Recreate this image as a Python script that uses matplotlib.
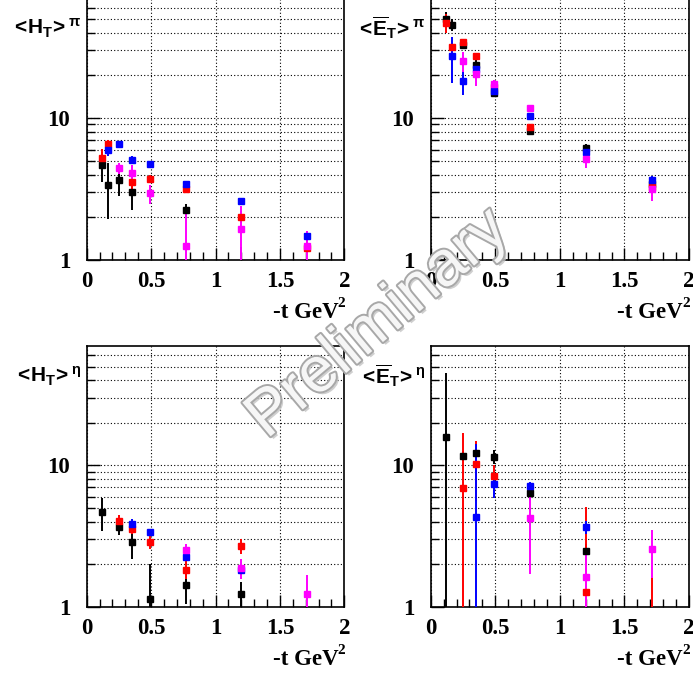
import numpy as np
import matplotlib
matplotlib.use("Agg")
import matplotlib.pyplot as plt
import matplotlib.ticker as mticker
import matplotlib.transforms as mtrans
import matplotlib.patheffects as pe

nan = np.nan
plt.rcParams['mathtext.fontset'] = 'custom'
plt.rcParams['mathtext.bf'] = 'Liberation Sans:bold'
plt.rcParams['mathtext.rm'] = 'Liberation Sans:bold'
plt.rcParams['mathtext.it'] = 'Liberation Sans:bold'
plt.rcParams['mathtext.sf'] = 'Liberation Sans:bold'

# -t bins (GeV^2)
x_bins = [0.115, 0.165, 0.25, 0.35, 0.49, 0.77, 1.2, 1.71]

# <H_T>^pi
HT_pi_black = [4.67, 3.38, 3.64, 3.00, nan, 2.24, 0.75, nan]
HT_pi_black_err = [1.1, 1.45, 0.8, 0.75, nan, 0.22, 0.49, nan]
HT_pi_red = [5.2, 6.53, nan, 3.56, 3.74, 3.16, 2.01, 1.21]
HT_pi_red_err = [0.85, 0.45, nan, 0.4, 0.25, 0.2, 0.2, 0.15]
HT_pi_blue = [nan, 5.95, 6.53, 5.06, 4.74, 3.45, 2.59, 1.48]
HT_pi_blue_err = [nan, 0.55, 0.2, 0.3, 0.2, 0.15, 0.15, 0.13]
HT_pi_magenta = [nan, nan, 4.42, 4.12, 2.94, 1.25, 1.65, 1.25]
HT_pi_magenta_err = [nan, nan, 0.4, 0.55, 0.45, 1.0, 0.75, 0.35]

# <Ebar_T>^pi
ET_pi_black = [49.5, 45.2, 32.6, 23.6, 14.9, 8.14, 6.15, 3.41]
ET_pi_black_err = [6.0, 4.3, 2.0, 2.0, 0.8, 0.4, 0.4, 0.2]
ET_pi_red = [46.9, 31.8, 34.1, 27.3, 16.5, 8.69, nan, 3.28]
ET_pi_red_err = [7.4, 1.0, 1.5, 1.0, 1.0, 0.3, nan, 0.2]
ET_pi_blue = [nan, 27.3, 18.1, 22.1, 15.5, 10.4, 5.76, 3.66]
ET_pi_blue_err = [nan, 9.8, 3.5, 2.0, 0.8, 0.4, 0.4, 0.25]
ET_pi_magenta = [nan, nan, 25.2, 20.4, 17.3, 11.8, 5.12, 3.15]
ET_pi_magenta_err = [nan, nan, 4.0, 3.5, 1.2, 0.6, 0.65, 0.55]

# <H_T>^eta
HT_eta_black = [4.66, nan, 3.65, 2.88, 1.14, 1.42, 1.22, nan]
HT_eta_black_err = [1.2, nan, 0.45, 0.72, 0.88, 0.38, 0.28, nan]
HT_eta_red = [nan, nan, 4.05, 3.57, 2.89, 1.83, 2.70, nan]
HT_eta_red_err = [nan, nan, 0.44, 0.3, 0.31, 0.27, 0.33, nan]
HT_eta_blue = [nan, nan, nan, 3.83, 3.40, 2.25, 1.82, nan]
HT_eta_blue_err = [nan, nan, nan, 0.37, 0.15, 0.15, 0.15, nan]
HT_eta_magenta = [nan, nan, nan, nan, nan, 2.51, 1.87, 1.22]
HT_eta_magenta_err = [nan, nan, nan, nan, nan, 0.28, 0.3, 0.45]

# <Ebar_T>^eta
ET_eta_black = [15.85, nan, 11.7, 12.3, 11.5, 6.35, 2.46, nan]
ET_eta_black_err = [29.0, nan, 1.0, 1.5, 1.3, 0.5, 0.3, nan]
ET_eta_red = [nan, nan, 6.88, 10.3, 8.45, nan, 1.27, 0.6]
ET_eta_red_err = [nan, nan, 10.1, 4.7, 1.55, nan, 3.8, 1.03]
ET_eta_blue = [nan, nan, nan, 4.32, 7.34, 7.11, 3.67, nan]
ET_eta_blue_err = [nan, nan, nan, 9.8, 1.5, 0.5, 0.4, nan]
ET_eta_magenta = [nan, nan, nan, nan, nan, 4.25, 1.61, 2.54]
ET_eta_magenta_err = [nan, nan, nan, nan, nan, 2.55, 1.0, 0.94]

series_colors = ['#000000', '#ff0000', '#0000ff', '#ff00ff']
panel_titles = [r'$\mathbf{{<}\!H_{T}\!{>}^{\pi}}$', r'$\mathbf{{<}\!\overline{E}_{T}\!{>}^{\pi}}$',
                r'$\mathbf{{<}\!H_{T}\!{>}^{\eta}}$', r'$\mathbf{{<}\!\overline{E}_{T}\!{>}^{\eta}}$']
x_title = '-t GeV'
x_title_sup = '2'
x_tick_vals = [0, 0.5, 1, 1.5, 2]
x_tick_labels = ['0', '0.5', '1', '1.5', '2']
y_major = [1, 10]
y_major_labels = ['1', '10']
y_minor = [2, 3, 4, 5, 6, 7, 8, 9, 20, 30, 40, 50, 60]

panels = [
    [(HT_pi_black, HT_pi_black_err), (HT_pi_red, HT_pi_red_err),
     (HT_pi_blue, HT_pi_blue_err), (HT_pi_magenta, HT_pi_magenta_err)],
    [(ET_pi_black, ET_pi_black_err), (ET_pi_red, ET_pi_red_err),
     (ET_pi_blue, ET_pi_blue_err), (ET_pi_magenta, ET_pi_magenta_err)],
    [(HT_eta_black, HT_eta_black_err), (HT_eta_red, HT_eta_red_err),
     (HT_eta_blue, HT_eta_blue_err), (HT_eta_magenta, HT_eta_magenta_err)],
    [(ET_eta_black, ET_eta_black_err), (ET_eta_red, ET_eta_red_err),
     (ET_eta_blue, ET_eta_blue_err), (ET_eta_magenta, ET_eta_magenta_err)],
]

W, H = 693, 676
fig = plt.figure(figsize=(W / 100, H / 100), dpi=100)

# axes rectangles in pixels: left, top, right, bottom
rects = [(86.7, -2, 344.3, 260), (430.7, -2, 689, 260),
         (86.7, 346, 344.3, 606.7), (430.7, 346, 689, 606.7)]

serif = 'Liberation Serif'
for i, (l, t, r, b) in enumerate(rects):
    ax = fig.add_axes([l / W, 1 - b / H, (r - l) / W, (b - t) / H])
    ax.set_yscale('log')
    ax.set_xlim(0, 2)
    ax.set_ylim(1, 70)
    for (yv, ev), c in zip(panels[i], series_colors):
        yv = np.array(yv, float)
        ev = np.array(ev, float)
        lo = np.minimum(ev, yv - 0.3)
        ax.errorbar(x_bins, yv, yerr=[lo, ev], fmt='s', color=c, ms=4.8,
                    mec=c, elinewidth=1.4, capsize=0, zorder=3)
    ax.yaxis.set_major_locator(mticker.FixedLocator(y_major))
    ax.yaxis.set_major_formatter(mticker.FixedFormatter(y_major_labels))
    ax.yaxis.set_minor_locator(mticker.FixedLocator(y_minor))
    ax.yaxis.set_minor_formatter(mticker.NullFormatter())
    ax.xaxis.set_major_locator(mticker.FixedLocator(x_tick_vals))
    ax.xaxis.set_major_formatter(mticker.FixedFormatter(x_tick_labels))
    ax.xaxis.set_minor_locator(mticker.MultipleLocator(0.1))
    ax.tick_params(which='both', direction='in', top=False, right=False,
                   width=1.0, color='black')
    ax.tick_params(which='major', length=9)
    ax.tick_params(which='minor', length=5.5)
    ax.tick_params(axis='y', which='major', pad=12)
    ax.tick_params(axis='x', which='major', pad=8)
    for lab in ax.get_xticklabels() + ax.get_yticklabels():
        lab.set_fontfamily(serif)
        lab.set_fontweight('bold')
        lab.set_fontsize(16.5)
    ax.grid(True, which='both', axis='y', color='black', linestyle=(0, (1, 2)), lw=0.8)
    ax.grid(True, which='major', axis='x', color='black', linestyle=(0, (1, 2)), lw=0.8)
    ax.set_axisbelow(True)
    for s in ax.spines.values():
        s.set_linewidth(1.2)
    # y title
    off = mtrans.ScaledTranslation(-5 / 100, -30 / 100, fig.dpi_scale_trans)
    ax.text(0, 1, panel_titles[i], transform=ax.transAxes + off, ha='right', va='center',
            fontsize=15, color='black')
    # x title
    off2 = mtrans.ScaledTranslation(-6 / 100, -58 / 100, fig.dpi_scale_trans)
    ax.text(1, 0, x_title, transform=ax.transAxes + off2, ha='right', va='baseline',
            fontsize=16.5, fontfamily=serif, fontweight='bold', color='black')
    off3 = mtrans.ScaledTranslation(1 / 100, -47 / 100, fig.dpi_scale_trans)
    ax.text(1, 0, x_title_sup, transform=ax.transAxes + off3, ha='right', va='baseline',
            fontsize=11, fontfamily=serif, fontweight='bold', color='black')

# watermark
fig.text(378 / W, 1 - 324 / H, 'Preliminary', rotation=40, ha='center', va='center',
         rotation_mode='anchor', fontsize=46, fontfamily='Liberation Sans', color='#f6f6f6',
         zorder=10,
         path_effects=[pe.SimplePatchShadow(offset=(2, -2), shadow_rgbFace='#c4c4c4', alpha=0.8),
                       pe.Stroke(linewidth=2.8, foreground='#a8a8a8'), pe.Normal()])

fig.savefig('out.png', dpi=100)
